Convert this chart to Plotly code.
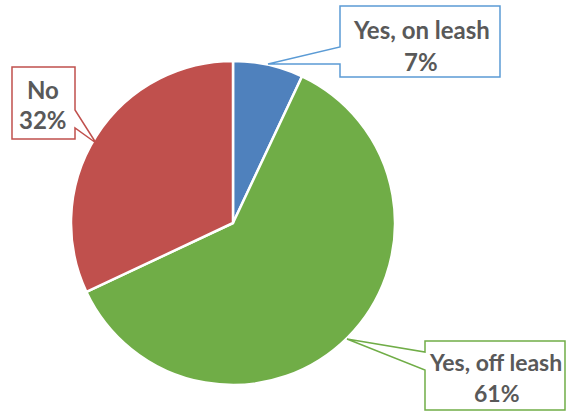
import plotly.graph_objects as go

labels = ["Yes, on leash", "Yes, off leash", "No"]
values = [7, 61, 32]
colors = ["#4F81BD", "#70AD47", "#C0504D"]
border_colors = ["#5B9BD5", "#70AD47", "#C0504D"]

W, H = 566, 411

def px(x, y):
    return x / W, 1 - y / H

def poly(points):
    s = ""
    for i, (x, y) in enumerate(points):
        X, Y = px(x, y)
        s += ("M" if i == 0 else "L") + f"{X:.5f},{Y:.5f} "
    return s + "Z"

cx, cy, r = 233, 223, 162
dx0, dy1 = px(cx - r, cy - r)
dx1, dy0 = px(cx + r, cy + r)

fig = go.Figure(go.Pie(
    labels=labels, values=values, sort=False, direction="clockwise", rotation=0,
    marker=dict(colors=colors, line=dict(color="white", width=2.5)),
    textinfo="none", hoverinfo="label+percent",
    domain=dict(x=[dx0, dx1], y=[dy0, dy1]), showlegend=False,
))

callouts = [
    [(340, 6), (500, 6), (500, 77), (340, 77), (340, 64), (268, 64), (340, 47)],
    [(425, 341), (565, 341), (565, 410), (425, 410), (425, 370), (347, 339), (425, 352)],
    [(12, 67), (75, 67), (75, 110), (96, 143), (75, 128), (75, 139), (12, 139)],
]
shapes = []
for pts, bc in zip(callouts, border_colors):
    shapes.append(dict(type="path", path=poly(pts), xref="paper", yref="paper",
                       fillcolor="white", line=dict(color=bc, width=1.5)))

# text positions (pixel centers): name line and percent line
text_pos = [((421, 29), (421, 61)), ((495, 362), (497, 393)), ((43, 89), (43, 120))]
sizes = [24, 23, 24]
annotations = []
total = sum(values)
for lab, v, ((nx, ny), (vx, vy)), fs in zip(labels, values, text_pos, sizes):
    pct = f"{round(100 * v / total)}%"
    for txt, (x, y) in ((lab, (nx, ny)), (pct, (vx, vy))):
        X, Y = px(x, y)
        annotations.append(dict(text=f"<b>{txt}</b>", x=X, y=Y, xref="paper", yref="paper",
                                showarrow=False, xanchor="center", yanchor="middle",
                                font=dict(family="Lato", size=fs, color="#595959")))

fig.update_layout(
    width=W, height=H, margin=dict(l=0, r=0, t=0, b=0),
    paper_bgcolor="white", plot_bgcolor="white",
    shapes=shapes, annotations=annotations,
)
fig.write_html("out.html", config={"displayModeBar": False},
               post_script="document.body.style.margin='0px';")
